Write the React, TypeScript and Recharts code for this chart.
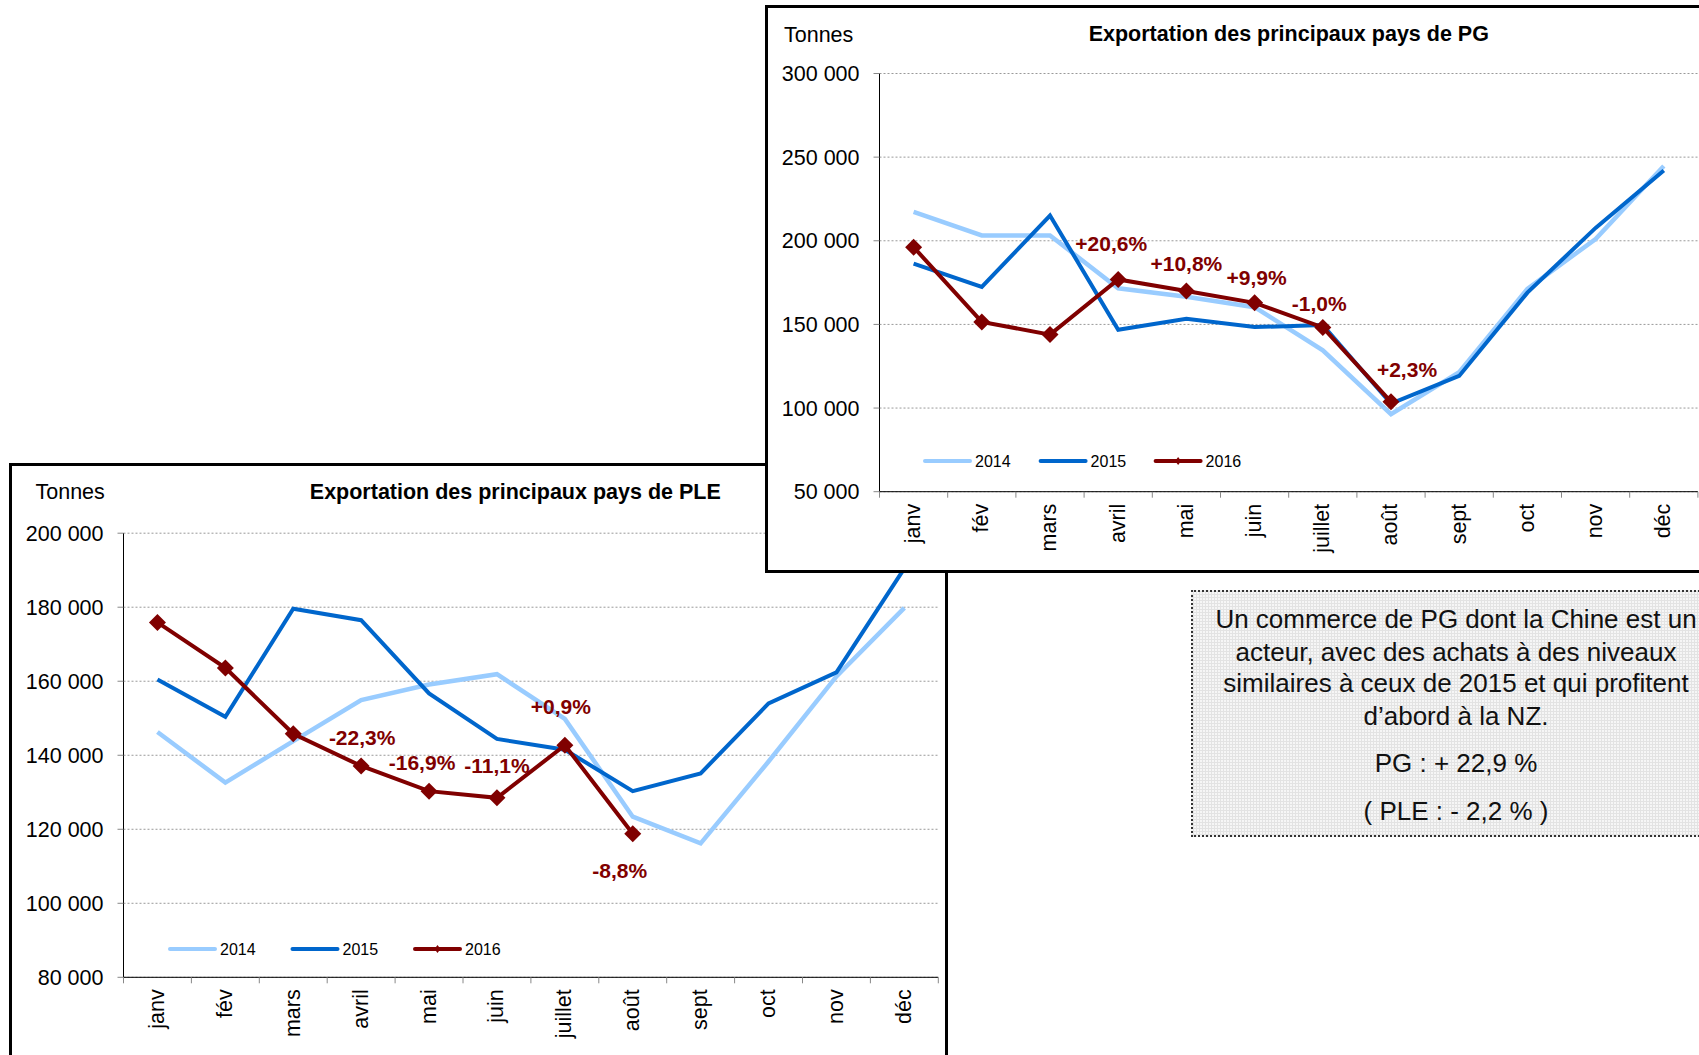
import React from 'react';
import { LineChart, Line, XAxis, YAxis, CartesianGrid, Legend, LabelList } from 'recharts';

const FONT = '"Liberation Sans", Arial, Helvetica, sans-serif';

// ---------- data ----------
const MONTHS = ['janv', 'fév', 'mars', 'avril', 'mai', 'juin', 'juillet', 'août', 'sept', 'oct', 'nov', 'déc'];
const YEARS = ['2014', '2015', '2016'];
const UNIT_LABEL = 'Tonnes';

const PG_TITLE = 'Exportation des principaux pays de PG';
const PG_2014 = [217300, 203200, 203200, 171600, 166600, 160300, 134500, 96300, 121400, 171200, 201100, 244700];
const PG_2015 = [186400, 172400, 215100, 146800, 153400, 148400, 149600, 102600, 119200, 169000, 207700, 242000];
const PG_2016 = [196200, 151500, 143900, 176900, 170000, 162900, 148200, 103700, null, null, null, null];
const PG_CHANGE = [null, null, null, '+20,6%', '+10,8%', '+9,9%', '-1,0%', '+2,3%', null, null, null, null];
const PG_TICKS = [50000, 100000, 150000, 200000, 250000, 300000];

const PLE_TITLE = 'Exportation des principaux pays de PLE';
const PLE_2014 = [146300, 132600, 143800, 154900, 159100, 161900, 149800, 123400, 116200, 138300, 161300, 179800];
const PLE_2015 = [160500, 150400, 179600, 176500, 156700, 144400, 141500, 130300, 135100, 154000, 162400, 190500];
const PLE_2016 = [175900, 163600, 145800, 137100, 130300, 128500, 142700, 118800, null, null, null, null];
const PLE_CHANGE = [null, null, null, '-22,3%', '-16,9%', '-11,1%', '+0,9%', '-8,8%', null, null, null, null];
const PLE_TICKS = [80000, 100000, 120000, 140000, 160000, 180000, 200000];

const NOTE_LINES = [
  'Un commerce de PG dont la Chine est un',
  'acteur, avec des achats à des niveaux',
  'similaires à ceux de 2015 et qui profitent',
  'd\u2019abord à la NZ.',
  'PG : + 22,9 %',
  '( PLE : - 2,2 % )',
];

// ---------- styles ----------
const COLORS: Record<string, string> = { '2014': '#99CCFF', '2015': '#0066CC', '2016': '#800000' };
const WIDTHS: Record<string, number> = { '2014': 4.5, '2015': 4, '2016': 4 };

const buildRows = (a: (number | null)[], b: (number | null)[], c: (number | null)[], labels: (string | null)[]) =>
  MONTHS.map((m, i) => ({ month: m, '2014': a[i], '2015': b[i], '2016': c[i], label: labels[i] }));

const fmt = (v: number) => String(v).replace(/\B(?=(\d{3})+(?!\d))/g, ' ');

const PG_LAYOUT = {
  frame: { left: 765, top: 5, width: 1000, height: 568 },
  chart: { left: 765, top: 5, width: 940, height: 567 },
  margin: { top: 68.5, right: 7.1, bottom: 20.3, left: 0 },
  yAxisWidth: 114.5,
  xAxisHeight: 60,
  band: 68.2,
  unit: { x: 784, y: 41.5 },
  title: { x: 1288.8, y: 41 },
  legend: { left: 157.7, top: 444, offsets: [0, 115.6, 230.6] },
  labelOffsets: { 3: [-7, -36], 4: [0, -28], 5: [2, -25.5], 6: [-3.5, -23.5], 7: [16, -32] } as Record<number, number[]>,
};

const PLE_LAYOUT = {
  frame: { left: 9, top: 463, width: 939, height: 700 },
  chart: { left: 9, top: 465, width: 940, height: 590 },
  margin: { top: 68.2, right: 10.7, bottom: 17.7, left: 0 },
  yAxisWidth: 114.5,
  xAxisHeight: 60,
  band: 67.9,
  unit: { x: 35.5, y: 499 },
  title: { x: 515.3, y: 499 },
  legend: { left: 159.4, top: 472.3, offsets: [0, 122.5, 245] },
  labelOffsets: { 3: [1, -28.5], 4: [-7, -29], 5: [0, -32.5], 6: [-4, -38.5], 7: [-13, 36.5] } as Record<number, number[]>,
};

const Diamond = (props: any) => {
  const { cx, cy, index } = props;
  if (cx == null || cy == null || isNaN(cx) || isNaN(cy)) return <g key={`dm${index}`} />;
  const s = 8.5;
  return (
    <path
      key={`dm${index}`}
      d={`M${cx},${cy - s}L${cx + s},${cy}L${cx},${cy + s}L${cx - s},${cy}Z`}
      fill={COLORS['2016']}
    />
  );
};

const makeCategoryTick = (band: number) => (props: any) => {
  const { x, y, payload, index } = props;
  const last = index === MONTHS.length - 1;
  return (
    <g>
      <line x1={x - band / 2} x2={x - band / 2} y1={y} y2={y + 6} stroke="#888" strokeWidth={1} />
      {last && <line x1={x + band / 2} x2={x + band / 2} y1={y} y2={y + 6} stroke="#888" strokeWidth={1} />}
      <text
        transform={`translate(${x},${y + 12}) rotate(-90)`}
        textAnchor="end"
        dy="0.3em"
        fontSize={21.5}
        fontFamily={FONT}
        fill="#000"
      >
        {payload.value}
      </text>
    </g>
  );
};

const makeLabel = (offsets: Record<number, number[]>) => (props: any) => {
  const { x, y, value, index } = props;
  if (value == null || x == null || y == null) return null;
  const off = offsets[index] || [0, -30];
  return (
    <text
      x={x + off[0]}
      y={y + off[1]}
      dy="0.36em"
      textAnchor="middle"
      fontSize={21}
      fontWeight="bold"
      fontFamily={FONT}
      fill={COLORS['2016']}
    >
      {value}
    </text>
  );
};

const makeLegend = (offsets: number[]) => (props: any) => {
  const payload = (props.payload || []).slice().sort((a: any, b: any) => String(a.value).localeCompare(String(b.value)));
  return (
    <svg width={420} height={24} style={{ display: 'block' }}>
      {payload.map((item: any, i: number) => {
        const x0 = offsets[i] ?? i * 115;
        const color = item.color;
        return (
          <g key={item.value}>
            <line x1={x0 + 2} x2={x0 + 47} y1={12} y2={12} stroke={color} strokeWidth={4} strokeLinecap="round" />
            {item.value === '2016' && (
              <path d={`M${x0 + 24.5},${8}L${x0 + 27.5},${12}L${x0 + 24.5},${16}L${x0 + 21.5},${12}Z`} fill={color} />
            )}
            <text x={x0 + 52} y={12} dy="0.35em" fontSize={16} fontFamily={FONT} fill="#000">
              {item.value}
            </text>
          </g>
        );
      })}
    </svg>
  );
};

type PanelProps = {
  layout: typeof PG_LAYOUT;
  rows: any[];
  domain: number[];
  ticks: number[];
  title: string;
};

const ChartPanel = ({ layout, rows, domain, ticks, title }: PanelProps) => {
  const L = layout;
  return (
    <>
      <div
        style={{
          position: 'absolute',
          left: L.frame.left,
          top: L.frame.top,
          width: L.frame.width,
          height: L.frame.height,
          border: '3px solid #000',
          boxSizing: 'border-box',
          background: '#fff',
        }}
      />
      <div style={{ position: 'absolute', left: L.chart.left, top: L.chart.top, width: L.chart.width, height: L.chart.height }}>
        <LineChart width={L.chart.width} height={L.chart.height} data={rows} margin={L.margin}>
          <CartesianGrid horizontal vertical={false} stroke="#999" strokeDasharray="2 2" />
          <XAxis
            dataKey="month"
            scale="point"
            interval={0}
            padding={{ left: L.band / 2, right: L.band / 2 }}
            height={L.xAxisHeight}
            tickSize={0}
            tickMargin={0}
            tickLine={false}
            axisLine={{ stroke: '#000', strokeWidth: 1 }}
            tick={makeCategoryTick(L.band)}
          />
          <YAxis
            type="number"
            domain={domain}
            ticks={ticks}
            interval={0}
            width={L.yAxisWidth}
            tickSize={6}
            tickMargin={14}
            tickFormatter={fmt}
            axisLine={{ stroke: '#000', strokeWidth: 1 }}
            tickLine={{ stroke: '#888', strokeWidth: 1 }}
            tick={{ fontSize: 21.5, fill: '#000', fontFamily: FONT }}
          />
          <Legend
            layout="horizontal"
            verticalAlign="middle"
            align="center"
            wrapperStyle={{ left: L.legend.left, top: L.legend.top, width: 420, height: 24 }}
            content={makeLegend(L.legend.offsets)}
          />
          {YEARS.map((yr) => (
            <Line
              key={yr}
              type="linear"
              dataKey={yr}
              name={yr}
              stroke={COLORS[yr]}
              strokeWidth={WIDTHS[yr]}
              dot={yr === '2016' ? Diamond : false}
              activeDot={false}
              isAnimationActive={false}
              connectNulls={false}
            >
              {yr === '2016' && <LabelList dataKey="label" content={makeLabel(L.labelOffsets)} />}
            </Line>
          ))}
        </LineChart>
      </div>
      <svg style={{ position: 'absolute', left: 0, top: 0, pointerEvents: 'none' }} width={1699} height={1055}>
        <text x={L.unit.x} y={L.unit.y} fontSize={21.5} fontFamily={FONT} fill="#000">
          {UNIT_LABEL}
        </text>
        <text x={L.title.x} y={L.title.y} textAnchor="middle" fontSize={21.5} fontWeight="bold" fontFamily={FONT} fill="#000">
          {title}
        </text>
      </svg>
    </>
  );
};

const NOTE_BASELINES = [38.3, 70.7, 101.7, 134.5, 182, 229.8];

const NoteBox = () => (
  <div
    style={{
      position: 'absolute',
      left: 1191,
      top: 590,
      width: 532,
      height: 247,
      border: '2px dotted #333',
      boxSizing: 'border-box',
      backgroundColor: '#f6f6f6',
      backgroundImage:
        'repeating-linear-gradient(0deg, #e3e3e3 0px, #e3e3e3 1px, transparent 1px, transparent 3px), repeating-linear-gradient(90deg, #e3e3e3 0px, #e3e3e3 1px, transparent 1px, transparent 3px)',
    }}
  >
    <svg style={{ position: 'absolute', left: -2, top: -2 }} width={532} height={247}>
      {NOTE_LINES.map((t, i) => (
        <text key={i} x={265} y={NOTE_BASELINES[i]} textAnchor="middle" fontSize={26} fontFamily={FONT} fill="#111">
          {t}
        </text>
      ))}
    </svg>
  </div>
);

export default function App() {
  const pgRows = buildRows(PG_2014, PG_2015, PG_2016, PG_CHANGE);
  const pleRows = buildRows(PLE_2014, PLE_2015, PLE_2016, PLE_CHANGE);
  return (
    <div
      style={{
        position: 'absolute',
        left: 0,
        top: 0,
        width: 1699,
        height: 1055,
        overflow: 'hidden',
        background: '#fff',
        fontFamily: FONT,
      }}
    >
      <ChartPanel layout={PLE_LAYOUT} rows={pleRows} domain={[80000, 200000]} ticks={PLE_TICKS} title={PLE_TITLE} />
      <ChartPanel layout={PG_LAYOUT} rows={pgRows} domain={[50000, 300000]} ticks={PG_TICKS} title={PG_TITLE} />
      <NoteBox />
    </div>
  );
}
